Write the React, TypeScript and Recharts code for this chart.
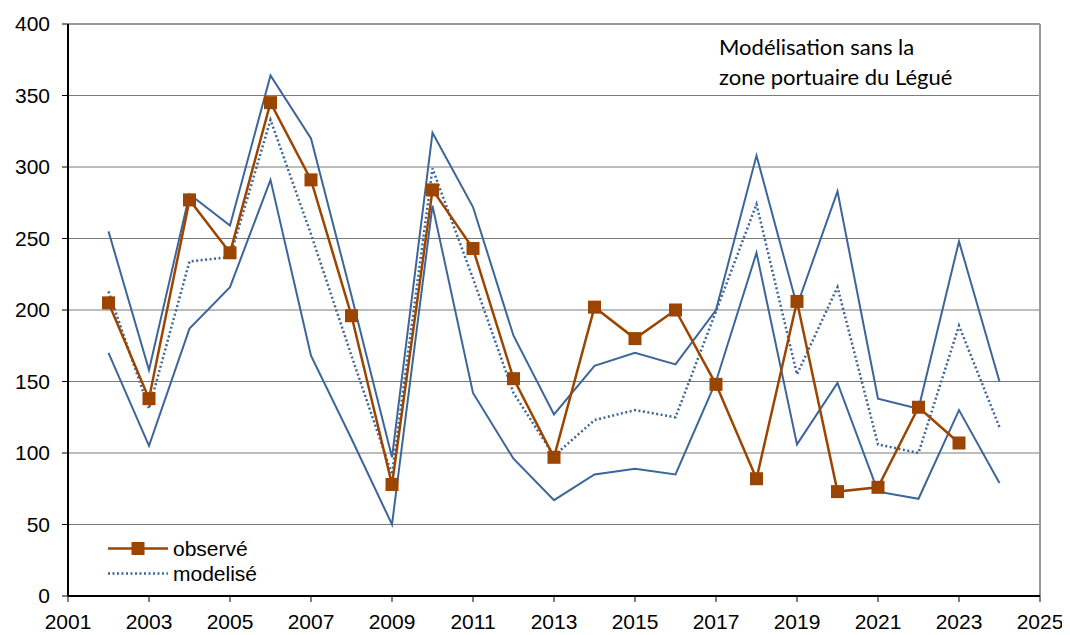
import { LineChart, Line, XAxis, YAxis, CartesianGrid, ReferenceLine } from 'recharts';

const years = [2002, 2003, 2004, 2005, 2006, 2007, 2008, 2009, 2010, 2011, 2012, 2013, 2014, 2015, 2016, 2017, 2018, 2019, 2020, 2021, 2022, 2023, 2024];
const observe = [205, 138, 277, 240, 345, 291, 196, 78, 284, 243, 152, 97, 202, 180, 200, 148, 82, 206, 73, 76, 132, 107, null];
const modelise = [213, 131, 234, 237, 333, 253, 168, 85, 299, 222, 142, 98, 123, 130, 125, 199, 274, 155, 216, 106, 100, 189, 118];
const borneHaute = [255, 158, 281, 259, 364, 320, 210, 97, 324, 272, 182, 127, 161, 170, 162, 200, 308, 203, 283, 138, 131, 248, 150];
const borneBasse = [170, 105, 187, 216, 291, 168, 110, 50, 273, 142, 96, 67, 85, 89, 85, 150, 240, 106, 149, 73, 68, 130, 79];

const xTicks = [2001, 2003, 2005, 2007, 2009, 2011, 2013, 2015, 2017, 2019, 2021, 2023, 2025];
const yTicks = [0, 50, 100, 150, 200, 250, 300, 350, 400];

const BROWN = '#9C4500';
const BLUE = '#3C6699';

const data = years.map((annee, i) => ({
  annee,
  observe: observe[i],
  modelise: modelise[i],
  haut: borneHaute[i],
  bas: borneBasse[i],
}));

const tickStyle = { fontFamily: '"Liberation Sans", Arial, sans-serif', fontSize: 21, fill: '#000' };

function Square(props: any) {
  const { cx, cy, index } = props;
  if (cx == null || cy == null) return <g key={`sq-${index}`} />;
  return <rect key={`sq-${index}`} x={cx - 6.5} y={cy - 6.5} width={13} height={13} fill={BROWN} />;
}

function LegendBox() {
  const txt = { fontFamily: '"Liberation Sans", Arial, sans-serif', fontSize: 21, color: '#000', lineHeight: '25px' };
  return (
    <div style={{ position: 'absolute', left: 100, top: 528, display: 'flex', flexDirection: 'column' }}>
      <div style={{ display: 'flex', alignItems: 'center' }}>
        <svg width={65} height={25}>
          <line x1={0} y1={12.5} x2={60} y2={12.5} stroke={BROWN} strokeWidth={2.5} />
          <rect x={23.5} y={6} width={13} height={13} fill={BROWN} />
        </svg>
        <span style={txt}>observé</span>
      </div>
      <div style={{ display: 'flex', alignItems: 'center' }}>
        <svg width={65} height={25}>
          <line x1={0} y1={12.5} x2={60} y2={12.5} stroke={BLUE} strokeWidth={2.5} strokeDasharray="2 2.5" />
        </svg>
        <span style={txt}>modelisé</span>
      </div>
    </div>
  );
}

export default function App() {
  return (
    <div style={{ position: 'relative', width: 1062, height: 627 }}>
      <LineChart width={1062} height={627} data={data} margin={{ top: 16, right: 30, left: 0, bottom: 0 }}>
        <CartesianGrid vertical={false} stroke="#7a7a7a" strokeWidth={1} />
        <XAxis
          dataKey="annee"
          type="number"
          domain={[2001, 2025]}
          ticks={xTicks}
          height={39}
          tick={tickStyle}
          tickSize={6}
          tickMargin={12}
          axisLine={{ stroke: '#000', strokeWidth: 2 }}
          tickLine={{ stroke: '#000' }}
        />
        <YAxis
          domain={[0, 400]}
          ticks={yTicks}
          width={60}
          tick={tickStyle}
          tickSize={6}
          tickMargin={12}
          axisLine={{ stroke: '#000', strokeWidth: 2 }}
          tickLine={{ stroke: '#000' }}
        />
        <ReferenceLine x={2025} stroke="#999" strokeWidth={2} />
        <ReferenceLine y={400} stroke="#999" strokeWidth={2} />
        <Line type="linear" dataKey="haut" stroke={BLUE} strokeWidth={2} dot={false} isAnimationActive={false} />
        <Line type="linear" dataKey="bas" stroke={BLUE} strokeWidth={2} dot={false} isAnimationActive={false} />
        <Line type="linear" dataKey="modelise" name="modelisé" stroke={BLUE} strokeWidth={2.5} strokeDasharray="2 2.5" dot={false} isAnimationActive={false} />
        <Line type="linear" dataKey="observe" name="observé" stroke={BROWN} strokeWidth={2.5} dot={Square} activeDot={false} isAnimationActive={false} />
      </LineChart>
      <LegendBox />
      <div
        style={{
          position: 'absolute',
          left: 711,
          top: 24,
          fontFamily: 'Lato, "Open Sans", sans-serif',
          fontSize: 22,
          lineHeight: '30px',
          color: '#000',
          whiteSpace: 'pre',
        }}
      >
        {'Modélisation sans la\nzone portuaire du Légué'}
      </div>
    </div>
  );
}
